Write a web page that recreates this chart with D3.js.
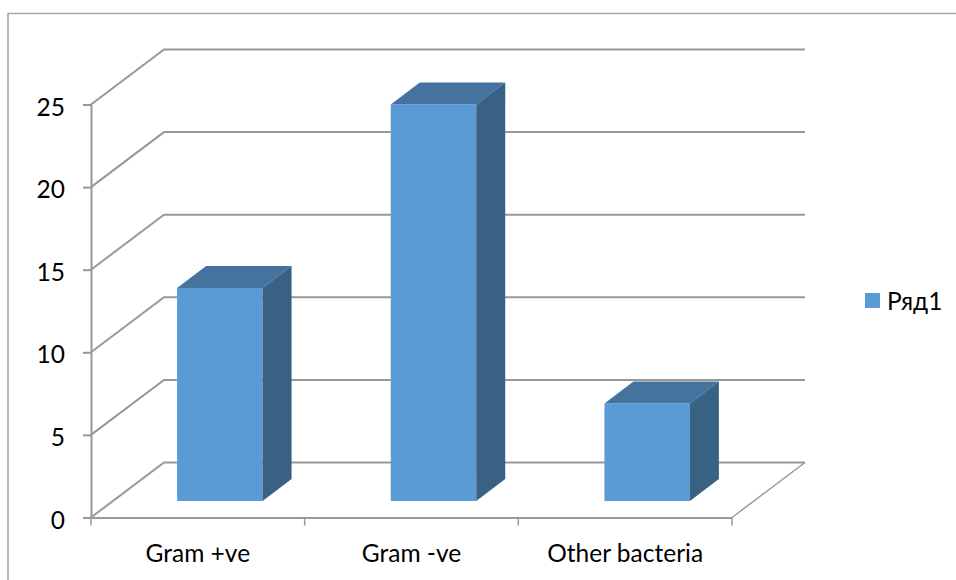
<!DOCTYPE html>
<html>
<head>
<meta charset="utf-8">
<script src="https://d3js.org/d3.v7.min.js"></script>
<style>
    html, body { margin: 0; padding: 0; background: #fff; }
    text { font-family: Lato, "Open Sans", sans-serif; fill: #000; }
</style>
</head>
<body>
<div id="my_dataviz"></div>
<script>
    // data
    var categories = ["Gram +ve", "Gram -ve", "Other bacteria"];
    var values = [12.9, 24, 5.9];
    var yTicks = [0, 5, 10, 15, 20, 25];
    var seriesName = "Ряд1";

    var width = 956, height = 580;
    var axisColor = "#989898";
    var fontSize = "24.5px";

    // plot area of the front plane
    var plotLeft = 91, plotRight = 732, plotBottom = 517.5, plotTop = 104.5;
    // oblique depth of the box and of the bars
    var depthX = 73, depthY = -55;
    var barDX = 29, barDY = -22;
    var barOffX = 22, barOffY = -16.5;

    var svg = d3.select("#my_dataviz").append("svg")
        .attr("width", width)
        .attr("height", height)
        .style("display", "block");

    // chart frame, only the top and left edges are in the shot
    svg.append("path")
        .attr("d", "M8,"  + height + "V13.5H" + width)
        .attr("fill", "none")
        .attr("stroke", "#a6a6a6")
        .attr("stroke-width", 1.6);

    var x = d3.scaleBand().domain(categories).range([plotLeft, plotRight]).paddingInner(0.6).paddingOuter(0.3);
    var x0 = d3.scaleBand().domain(categories).range([plotLeft, plotRight]);
    var y = d3.scaleLinear().domain([0, 25]).range([plotBottom, plotTop]);

    // gridlines: side wall then back wall
    svg.append("g").selectAll("path")
        .data(yTicks)
        .enter().append("path")
        .attr("d", function (d) {
            return "M" + plotLeft + "," + y(d) + "L" + (plotLeft + depthX) + "," + (y(d) + depthY) + "H" + (plotRight + depthX);
        })
        .attr("fill", "none")
        .attr("stroke", axisColor)
        .attr("stroke-width", 2);

    // floor front-right edge
    svg.append("path")
        .attr("d", "M" + plotRight + "," + y(0) + "L" + (plotRight + depthX) + "," + (y(0) + depthY))
        .attr("fill", "none")
        .attr("stroke", axisColor)
        .attr("stroke-width", 1.5);

    // axes
    var yAxis = svg.append("g")
        .attr("transform", "translate(" + plotLeft + ",0)")
        .call(d3.axisLeft(y).tickValues(yTicks).tickSize(8).tickPadding(18).tickSizeOuter(0));
    var xAxis = svg.append("g")
        .attr("transform", "translate(0," + plotBottom + ")")
        .call(d3.axisBottom(x0).tickSize(0).tickPadding(27));

    yAxis.selectAll("text").style("font-size", fontSize).attr("dy", "0.43em");
    xAxis.selectAll("text").style("font-size", fontSize);
    yAxis.selectAll("line, path").attr("stroke", axisColor).attr("stroke-width", 2);
    xAxis.selectAll("path").attr("stroke", axisColor).attr("stroke-width", 2);

    // category separators on the x axis
    svg.append("g").selectAll("line")
        .data(d3.range(categories.length + 1))
        .enter().append("line")
        .attr("x1", function (d) { return plotLeft + d * x0.step(); })
        .attr("x2", function (d) { return plotLeft + d * x0.step(); })
        .attr("y1", plotBottom)
        .attr("y2", plotBottom + 8)
        .attr("stroke", axisColor)
        .attr("stroke-width", 1.5);

    // bars: front, top and side faces
    var bars = svg.append("g").selectAll("g")
        .data(values)
        .enter().append("g")
        .attr("transform", function (d, i) {
            return "translate(" + (x(categories[i]) + barOffX) + "," + barOffY + ")";
        });

    var bw = x.bandwidth();
    bars.append("rect")
        .attr("y", function (d) { return y(d); })
        .attr("width", bw)
        .attr("height", function (d) { return y(0) - y(d); })
        .attr("fill", "#5b9bd5");
    bars.append("path")
        .attr("d", function (d) {
            return "M0," + y(d) + "l" + barDX + "," + barDY + "h" + bw + "l" + (-barDX) + "," + (-barDY) + "z";
        })
        .attr("fill", "#44739f");
    bars.append("path")
        .attr("d", function (d) {
            return "M" + bw + "," + y(d) + "l" + barDX + "," + barDY + "V" + (y(0) + barDY) + "l" + (-barDX) + "," + (-barDY) + "z";
        })
        .attr("fill", "#386184");

    // legend
    svg.append("rect")
        .attr("x", 865).attr("y", 293)
        .attr("width", 15).attr("height", 15)
        .attr("fill", "#5b9bd5");
    svg.append("text")
        .attr("x", 887).attr("y", 301)
        .attr("dy", "0.35em")
        .style("font-size", fontSize)
        .text(seriesName);
</script>
</body>
</html>
